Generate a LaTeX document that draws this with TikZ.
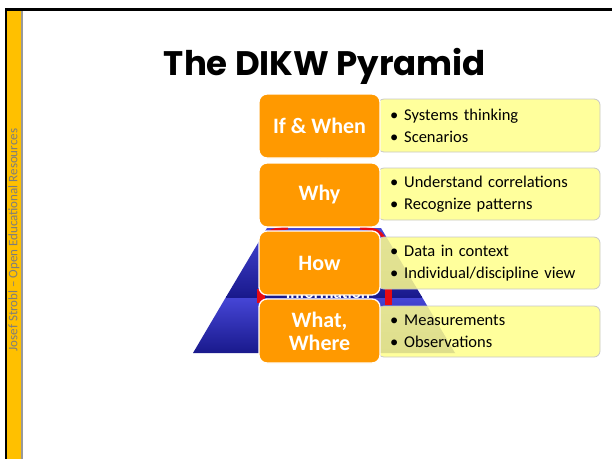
\documentclass[tikz,border=0pt]{standalone}
\usepackage{fontspec}
\setmainfont{Carlito}
\newfontfamily\titlefont{Poppins}
\definecolor{barc}{RGB}{255,192,0}
\definecolor{orng}{RGB}{255,153,0}
\definecolor{ylw}{RGB}{255,255,140}
\definecolor{pyrtop}{RGB}{70,70,215}
\definecolor{pyrbot}{RGB}{25,25,140}
\definecolor{pyrred}{RGB}{230,10,20}
\definecolor{sidegray}{RGB}{125,125,125}
\tikzset{
  obox/.style={draw=white, line width=1.3pt, fill=orng, rounded corners=8pt,
    minimum width=121pt, minimum height=64pt, text=white, align=center, inner sep=0pt,
    font=\bfseries\fontsize{22}{23}\selectfont},
  ybox/.style={draw=black!22, line width=0.8pt, fill=ylw, fill opacity=0.86, text opacity=1,
    rounded corners=6pt, minimum width=222pt, inner xsep=12pt, inner ysep=0pt,
    text width=198pt, align=left, font=\fontsize{16.5}{22}\selectfont},
  layer/.style={top color=pyrtop, bottom color=pyrbot, draw=none},
  redmark/.style={fill=pyrred, draw=none},
  hiddenlbl/.style={font=\bfseries\fontsize{17}{18}\selectfont, inner sep=0pt}
}
\begin{document}
\begin{tikzpicture}[x=1pt,y=-1pt]
\useasboundingbox (0,0) rectangle (612,459);
% frame
\fill[barc] (7,11) rectangle (21,459);
\fill[black!40] (21,11) rectangle (23,459);
\fill[black] (5,8) rectangle (612,11);
\fill[black] (5,8) rectangle (7,459);
\node[rotate=90, text=sidegray, font=\fontsize{13}{14}\selectfont, inner sep=0pt] (side) at (14,240) {Josef Strobl -- Open Educational Resources};
% title
\node[anchor=base, font=\titlefont\bfseries\fontsize{34}{36}\selectfont, inner sep=0pt] (title) at (325,75) {The DIKW Pyramid};
% pyramid
\path[layer] (193,353) -- (455,353) -- (422,297) -- (226,297) -- cycle;
\path[layer] (226,297) -- (422,297) -- (381,228) -- (267,228) -- cycle;
\draw[pyrbot, line width=2pt] (226,297) -- (422,297);
\fill[redmark] (257,289) rectangle (265,303);
\fill[redmark] (385,289) rectangle (392,305);
\draw[pyrred, line width=3pt] (266,238) .. controls (270,230) .. (288,228);
\draw[pyrred, line width=3pt] (360,228) .. controls (378,230) .. (384,238);
\node[hiddenlbl, text=pyrbot!45, anchor=base] (wis) at (327,158) {Wisdom};
\node[hiddenlbl, text=white, anchor=base] (inf) at (328,298) {Information};
% yellow boxes
\node[ybox, minimum height=53pt] (y1) at (489,125.5) {\textbullet\hspace{6pt}Systems thinking\\\textbullet\hspace{6pt}Scenarios};
\node[ybox, minimum height=52pt] (y2) at (489,194) {\textbullet\hspace{6pt}Understand correlations\\\textbullet\hspace{6pt}Recognize patterns};
\node[ybox, minimum height=52pt] (y3) at (489,263) {\textbullet\hspace{6pt}Data in context\\\textbullet\hspace{6pt}Individual/discipline view};
\node[ybox, minimum height=51pt] (y4) at (489,331.5) {\textbullet\hspace{6pt}Measurements\\\textbullet\hspace{6pt}Observations};
% orange boxes
\node[obox] (o1) at (319.5,126) {If \& When};
\node[obox] (o2) at (319.5,195) {Why};
\node[obox] (o3) at (319.5,263) {How};
\node[obox] (o4) at (319.5,331) {What,\\Where};
\end{tikzpicture}
\end{document}
